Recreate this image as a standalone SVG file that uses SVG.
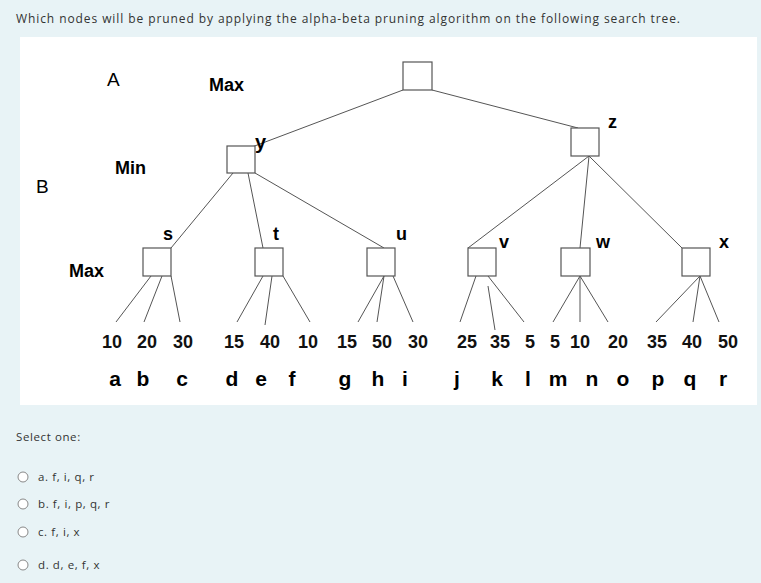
<svg xmlns="http://www.w3.org/2000/svg" width="761" height="583" viewBox="0 0 761 583">
<style>
.q{font-family:"Open Sans","Liberation Sans",sans-serif;font-size:12px;fill:#333}
.o{font-family:"Open Sans","Liberation Sans",sans-serif;font-size:11.5px;fill:#333;letter-spacing:0.6px}
.l{font-family:"Liberation Sans",Arial,sans-serif;font-size:19px;fill:#000}
.b{font-family:"Liberation Sans",Arial,sans-serif;font-weight:bold;font-size:18px;fill:#000}
.n{font-family:"Liberation Sans",Arial,sans-serif;font-weight:bold;font-size:18px;fill:#111;text-anchor:middle}
.lt{font-family:"Liberation Sans",Arial,sans-serif;font-weight:bold;font-size:21px;fill:#000;text-anchor:middle}
.box{fill:#fff;stroke:#555;stroke-width:1.2}
.e{stroke:#555;stroke-width:1;fill:none}
</style>
<rect width="761" height="583" fill="#e8f3f6"/>
<text class="q" x="16" y="23" textLength="664" lengthAdjust="spacing">Which nodes will be pruned by applying the alpha-beta pruning algorithm on the following search tree.</text>
<rect x="20" y="37" width="737" height="368" fill="#fff"/>
<g id="connectors" class="e">
<path d="M403 90L252 147M432 90L578 128"/>
<path d="M233 173L171 248M248 173L263 248M255 173L384 248"/>
<path d="M589 156L468 248M589 156L580 248M589 156L682 248"/>
<path d="M151 276L116 322M162 276L144 322M171 276L180 322"/>
<path d="M263 276L237 322M272 276L265 325M283 276L310 322"/>
<path d="M384 276L358 322M384 276L377 322M393 276L413 322"/>
<path d="M476 276L460 322M488 286L495 330M488 276L524 322"/>
<path d="M580 276L553 322M580 276L580 322M580 276L608 322"/>
<path d="M700 276L656 322M700 276L693 322M700 276L719 322"/>
</g>
<g id="root"><rect class="box" x="403" y="62" width="29" height="28"/></g>
<g id="y"><rect class="box" x="227" y="146" width="28" height="27"/><text class="b" x="255" y="149" style="font-size:20px">y</text></g>
<g id="z"><rect class="box" x="571" y="128" width="28" height="28"/><text class="b" x="608" y="128">z</text></g>
<g id="s"><rect class="box" x="143" y="248" width="28" height="28"/><text class="b" x="163" y="240">s</text></g>
<g id="t"><rect class="box" x="255" y="248" width="28" height="28"/><text class="b" x="273" y="240">t</text></g>
<g id="u"><rect class="box" x="367" y="248" width="28" height="28"/><text class="b" x="396" y="240">u</text></g>
<g id="v"><rect class="box" x="468" y="248" width="28" height="28"/><text class="b" x="499" y="248">v</text></g>
<g id="w"><rect class="box" x="561" y="248" width="29" height="28"/><text class="b" x="596" y="248">w</text></g>
<g id="x"><rect class="box" x="682" y="248" width="28" height="28"/><text class="b" x="719" y="248">x</text></g>
<g id="labels">
<text class="l" x="107" y="86">A</text>
<text class="b" x="209" y="91">Max</text>
<text class="b" x="115" y="174">Min</text>
<text class="l" x="36" y="193">B</text>
<text class="b" x="69" y="277">Max</text>
</g>
<g id="values">
<text class="n" x="112" y="348">10</text><text class="n" x="147" y="348">20</text><text class="n" x="183" y="348">30</text>
<text class="n" x="234" y="348">15</text><text class="n" x="270" y="348">40</text><text class="n" x="308" y="348">10</text>
<text class="n" x="347" y="348">15</text><text class="n" x="382" y="348">50</text><text class="n" x="418" y="348">30</text>
<text class="n" x="467" y="348">25</text><text class="n" x="500" y="348">35</text><text class="n" x="530" y="348">5</text>
<text class="n" x="555" y="348">5</text><text class="n" x="580" y="348">10</text><text class="n" x="618" y="348">20</text>
<text class="n" x="657" y="348">35</text><text class="n" x="692" y="348">40</text><text class="n" x="728" y="348">50</text>
</g>
<g id="letters">
<text class="lt" x="115" y="386">a</text><text class="lt" x="143" y="386">b</text><text class="lt" x="182" y="386">c</text>
<text class="lt" x="232" y="386">d</text><text class="lt" x="261" y="386">e</text><text class="lt" x="292" y="386">f</text>
<text class="lt" x="345" y="386">g</text><text class="lt" x="378" y="386">h</text><text class="lt" x="405" y="386">i</text>
<text class="lt" x="457" y="386">j</text><text class="lt" x="497" y="386">k</text><text class="lt" x="528" y="386">l</text>
<text class="lt" x="558" y="386">m</text><text class="lt" x="592" y="386">n</text><text class="lt" x="623" y="386">o</text>
<text class="lt" x="658" y="386">p</text><text class="lt" x="690" y="386">q</text><text class="lt" x="723" y="386">r</text>
</g>
<g id="options">
<text class="o" x="16" y="441">Select one:</text>
<g fill="#fff" stroke="#888"><circle cx="23" cy="477" r="5"/><circle cx="23" cy="504" r="5"/><circle cx="23" cy="532" r="5"/><circle cx="23" cy="565" r="5"/></g>
<text class="o" x="38" y="481">a.  f, i, q, r</text>
<text class="o" x="38" y="508">b.  f, i, p, q, r</text>
<text class="o" x="38" y="536">c.  f, i, x</text>
<text class="o" x="38" y="569">d.  d, e, f, x</text>
</g>
</svg>
